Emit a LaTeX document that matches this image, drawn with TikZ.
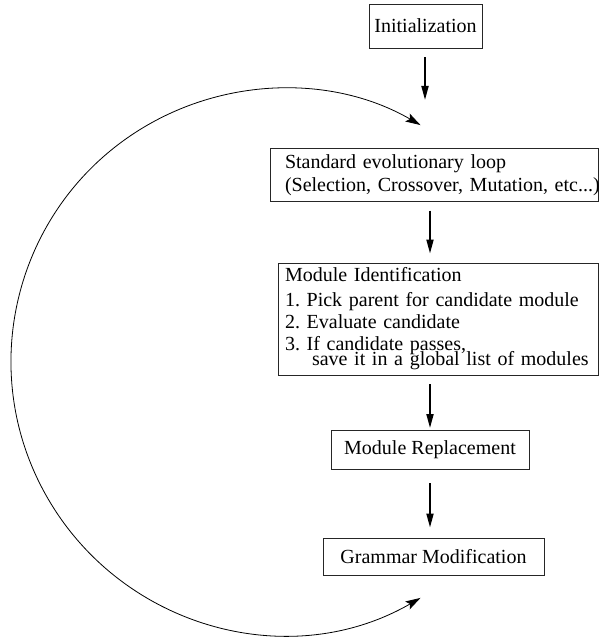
\documentclass[tikz,border=0pt]{standalone}
\usepackage{fontspec}
\setmainfont{Liberation Serif}
\usetikzlibrary{arrows.meta}

\begin{document}
\frenchspacing
\begin{tikzpicture}[x=1pt, y=1pt, every node/.style={font=\fontsize{20}{23}\selectfont},
 box/.style={draw=black!85,line width=0.9pt,inner sep=0pt,align=center},
 arr/.style={-{Triangle[length=14pt,width=7pt]},line width=1.8pt,shorten <=9pt,shorten >=9pt},
 back/.style={{Stealth[length=15pt,width=9pt,inset=3pt]}-{Stealth[length=15pt,width=9pt,inset=3pt]},line width=0.8pt}]
\useasboundingbox (0,0) rectangle (599,639);
\node[box,minimum width=113pt,minimum height=44pt] (init) at (425.5,613) {Initialization};
\node[box,text width=298pt,inner xsep=15pt,inner ysep=5.5pt,align=left] (std) at (434,464)
 {Standard evolutionary loop\\\mbox{(Selection, Crossover, Mutation, etc...)}};
\node[box,text width=306pt,inner xsep=7pt,minimum height=112pt,align=left] (mi) at (438,320)
 {Module Identification\\[2pt]
 1. Pick parent for candidate module\\[-1pt]
 2. Evaluate candidate\\[-1pt]
 3. If candidate passes,\\[-8pt]
 \hspace*{27pt}save it in a global list of modules};
\node[box,minimum width=198pt,minimum height=39pt] (mr) at (430,189.5) {Module Replacement};
\node[box,minimum width=221pt,minimum height=37pt] (gm) at (433.5,82.5) {Grammar Modification};
% loop back
\coordinate (entry) at (425,539);
\coordinate (loopc) at (284,277.5);
\coordinate (ret) at ([shift={(-60:273pt)}]loopc);
\draw[arr,shorten >=0pt] (init.south -| entry) -- (entry);
\draw[arr] (std.south -| mr) -- (mi.north -| mr);
\draw[arr,shorten >=1.5pt] (mi.south -| mr) -- (mr.north);
\draw[arr,shorten <=14pt,shorten >=10pt] (mr.south) -- (gm.north -| mr);
\draw[back] (ret) arc[start angle=-60,end angle=-300,radius=273pt];
\end{tikzpicture}
\end{document}
